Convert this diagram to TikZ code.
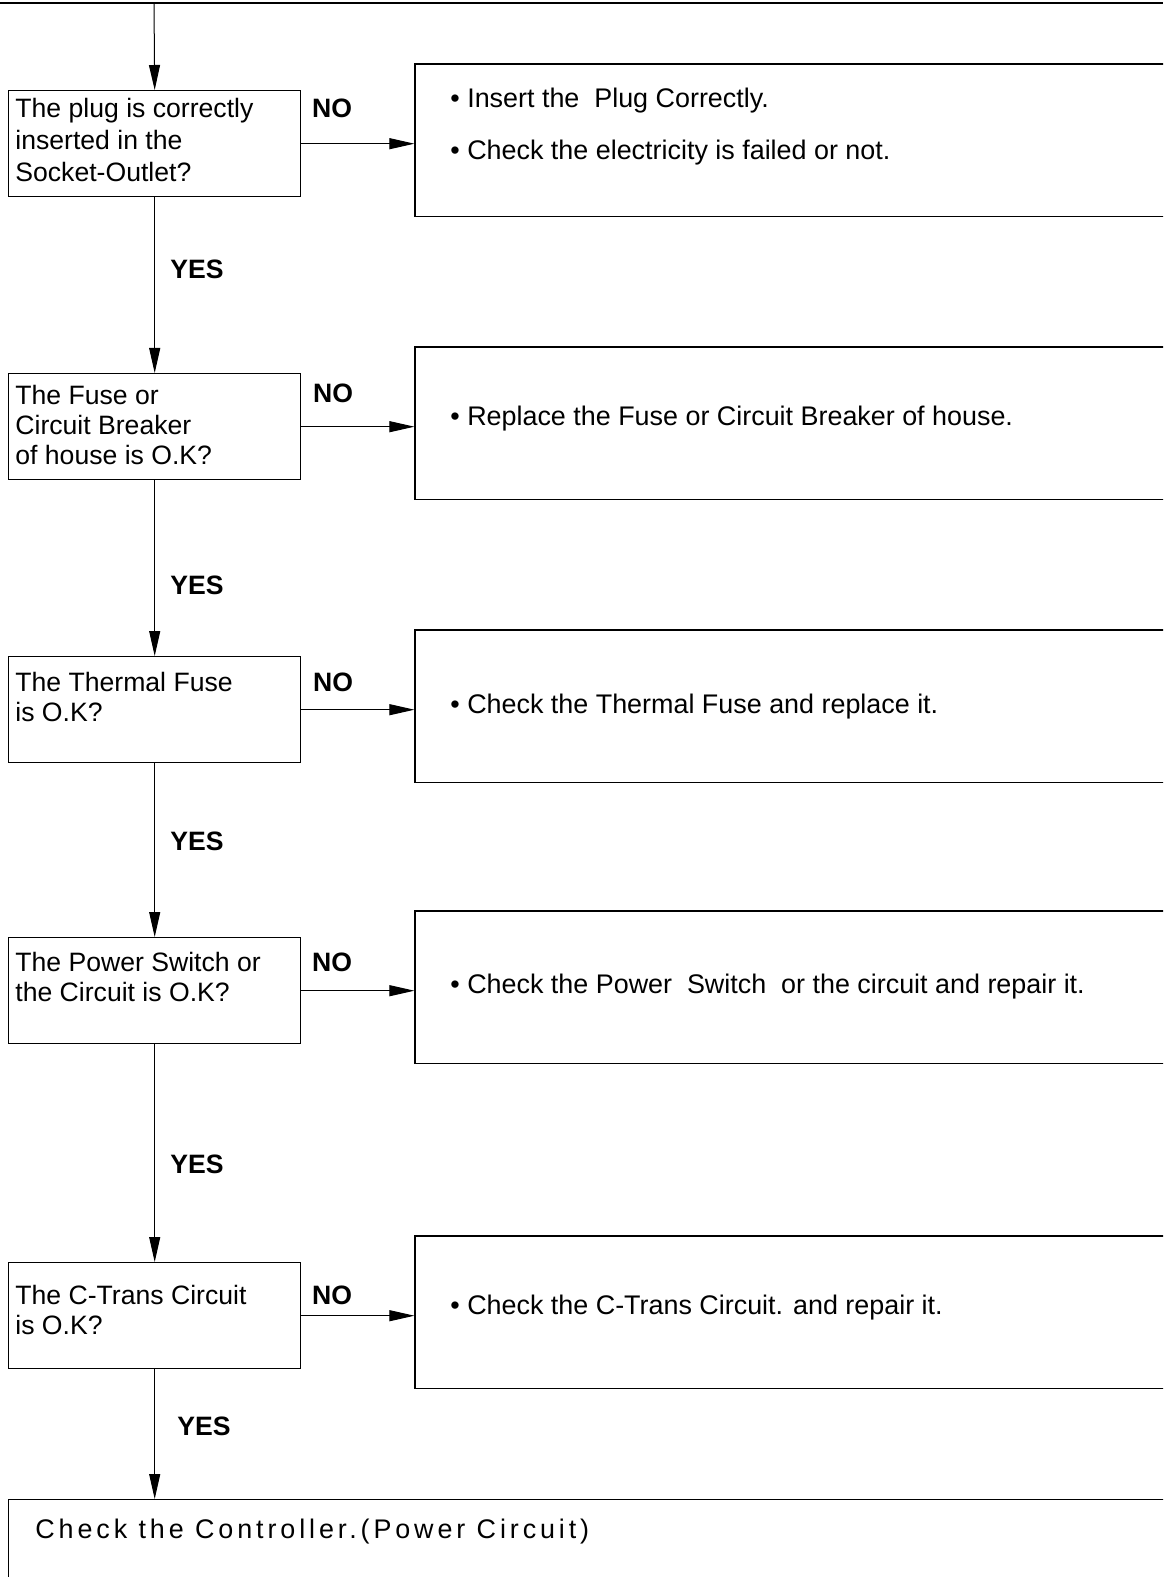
\documentclass[tikz,border=0pt]{standalone}
\usepackage{fontspec}
\setmainfont{Liberation Sans}
\newfontfamily\spacedfont[LetterSpace=14.5]{Liberation Sans}
\usetikzlibrary{arrows.meta, positioning}

\begin{document}
\begin{tikzpicture}[
    x=0.5pt, y=-0.5pt,
    qbox/.style={draw, line width=0.7pt, anchor=north west, inner sep=0pt,
        minimum width=146pt, minimum height=53pt},
    abox/.style={draw, line width=0.7pt, inner sep=0pt,
        minimum width=400pt, minimum height=76.25pt},
    qtext/.style={anchor=north west, inner sep=0pt, align=left,
        font=\fontsize{13.3}{15}\selectfont},
    atext/.style={anchor=base west, inner sep=0pt,
        font=\fontsize{13.45}{16}\selectfont},
    lbl/.style={inner sep=0pt, font=\fontsize{13.3}{16}\selectfont\bfseries},
    arr/.style={-{Triangle[length=12.5pt, width=5.5pt]}, line width=0.5pt}
]
\fill[white] (0,0) rectangle (1163,1577);
\useasboundingbox (0,0) rectangle (1163,1577);
\clip (0,0) rectangle (1163,1577);

\node[qbox] (L1) at (8,90) {};
\node[qbox] (L2) at (8,373) {};
\node[qbox] (L3) at (8,656) {};
\node[qbox] (L4) at (8,937) {};
\node[qbox] (L5) at (8,1262) {};

\node[abox, right=56.5pt of L1, yshift=1.75pt] (R1) {};
\node[abox, right=56.5pt of L2, yshift=1.75pt] (R2) {};
\node[abox, right=56.5pt of L3, yshift=1.75pt] (R3) {};
\node[abox, right=56.5pt of L4, yshift=1.75pt] (R4) {};
\node[abox, right=56.5pt of L5, yshift=1.75pt] (R5) {};

\node[draw, line width=0.7pt, anchor=north west, minimum width=600pt,
    minimum height=100pt] (ctrl) at (8,1499) {};

\node[qtext, font=\fontsize{13.3}{16}\selectfont] (L1t) at (15,98)
    {The plug is correctly\\inserted in the\\Socket-Outlet?};
\node[qtext] (L2t) at (15,385) {The Fuse or\\Circuit Breaker\\of house is O.K?};
\node[qtext] (L3t) at (15,672) {The Thermal Fuse\\is O.K?};
\node[qtext] (L4t) at (15,952) {The Power Switch or\\the Circuit is O.K?};
\node[qtext] (L5t) at (15,1285) {The C-Trans Circuit\\is O.K?};

\node[atext] (R1a) at (450,107.6) {• Insert the\ \ Plug Correctly.};
\node[atext] (R1b) at (450,159.6) {• Check the electricity is failed or not.};
\node[atext] (R2t) at (450,425) {• Replace the Fuse or Circuit Breaker of house.};
\node[atext] (R3t) at (450,713) {• Check the Thermal Fuse and replace it.};
\node[atext] (R4t) at (450,993) {• Check the Power\ \ Switch\ \ or the circuit and repair it.};
\node[atext] (R5t) at (450,1314) {• Check the C-Trans Circuit. and repair it.};

\node[atext] (ctrlt) at (35,1538.6) {\spacedfont Check the Controller.(Power Circuit)};

\draw[line width=1.2pt] (0,3) -- (1163,3);
\coordinate (start) at (154,3);

\draw[arr] (start) -- (L1.north);
\draw[arr] (L1.south) -- (L2.north);
\draw[arr] (L2.south) -- (L3.north);
\draw[arr] (L3.south) -- (L4.north);
\draw[arr] (L4.south) -- (L5.north);
\draw[arr] (L5.south) -- (L5.south |- ctrl.north);

\draw[arr] (L1.east) -- (L1.east -| R1.west);
\draw[arr] (L2.east) -- (L2.east -| R2.west);
\draw[arr] (L3.east) -- (L3.east -| R3.west);
\draw[arr] (L4.east) -- (L4.east -| R4.west);
\draw[arr] (L5.east) -- (L5.east -| R5.west);

\node[lbl] (no1) at (332,108) {NO};
\node[lbl] (no2) at (333,393) {NO};
\node[lbl] (no3) at (333,682) {NO};
\node[lbl] (no4) at (332,962) {NO};
\node[lbl] (no5) at (332,1295) {NO};

\node[lbl] (yes1) at (197,269) {YES};
\node[lbl] (yes2) at (197,585) {YES};
\node[lbl] (yes3) at (197,841) {YES};
\node[lbl] (yes4) at (197,1164) {YES};
\node[lbl] (yes5) at (204,1426) {YES};
\end{tikzpicture}
\end{document}
